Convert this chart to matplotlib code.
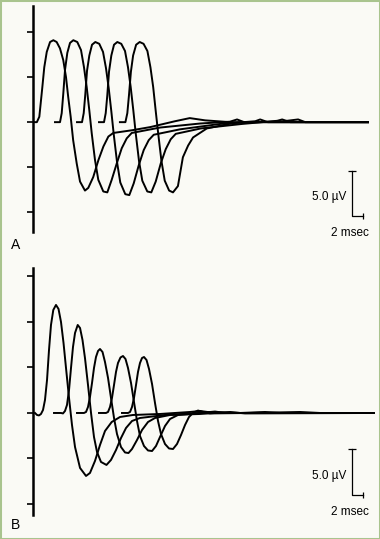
"""Two panels of stacked evoked potentials (A, B) with scale bars."""

import matplotlib

matplotlib.use("Agg")
import matplotlib.pyplot as plt
from matplotlib.patches import Rectangle

# ---- data: time in msec, amplitude in microvolts ----

# panel A, five responses
a_t1 = [0, 0.7, 1.15, 1.4, 1.7, 2.05, 2.5, 3.1, 3.7, 4.3, 4.9, 5.5, 6.0, 6.4, 6.85,
        7.3, 7.95, 8.55, 9.45, 10.05, 10.95, 11.9, 12.8, 13.7, 14.6, 18.0, 21.3,
        25.8, 28.5, 31.3, 35.8, 60.9]
a_v1 = [0, 0, 0.6, 2.1, 3.9, 6.1, 7.8, 8.9, 9.1, 8.9, 8.2, 6.9, 5.0, 2.8, 0.6,
        -2.0, -4.6, -6.6, -7.6, -7.3, -6.1, -4.2, -2.7, -1.6, -1.2, -0.9, -0.55,
        0.1, 0.45, 0.2, 0.0, 0.0]

a_t2 = [4.0, 4.91, 5.22, 5.51, 5.82, 6.24, 6.73, 7.33, 8.05, 8.73, 9.27, 9.76,
        10.24, 10.67, 11.27, 11.87, 12.78, 13.51, 14.31, 15.22, 16.13, 17.04,
        17.95, 23.1, 30.4, 35.8, 37.1, 38.4, 60.9]
a_v2 = [0, 0, 1.0, 3.2, 5.8, 7.7, 8.8, 9.1, 8.9, 8.0, 6.1, 3.9, 1.3, -1.2, -4.2,
        -6.4, -7.7, -7.8, -6.4, -4.6, -2.9, -1.8, -1.2, -0.6, -0.15, 0.05, 0.3,
        0.0, 0.0]

a_t3 = [8.0, 8.91, 9.22, 9.51, 9.82, 10.24, 10.73, 11.33, 12.05, 12.73, 13.27,
        13.76, 14.24, 14.67, 15.27, 15.87, 16.78, 17.51, 18.31, 19.22, 20.13,
        21.04, 21.95, 26.7, 34.0, 40.4, 41.3, 42.7, 60.9]
a_v3 = [0, 0, 1.0, 3.1, 5.7, 7.4, 8.6, 8.9, 8.7, 7.8, 6.0, 3.8, 1.2, -1.3, -4.4,
        -6.7, -8.0, -8.1, -6.8, -4.8, -3.1, -2.0, -1.4, -0.8, -0.2, 0.1, 0.3,
        0.0, 0.0]

a_t4 = [12.0, 12.91, 13.22, 13.51, 13.82, 14.24, 14.73, 15.33, 16.05, 16.73,
        17.27, 17.76, 18.24, 18.67, 19.27, 19.87, 20.78, 21.51, 22.31, 23.22,
        24.13, 25.04, 25.95, 30.5, 38.0, 44.4, 45.3, 46.8, 60.9]
a_v4 = [0, 0, 1.0, 3.0, 5.6, 7.4, 8.6, 8.9, 8.7, 7.9, 6.1, 3.9, 1.3, -1.2, -4.3,
        -6.5, -7.7, -7.8, -6.6, -4.6, -3.0, -1.9, -1.3, -0.7, -0.2, 0.15, 0.3,
        0.0, 0.0]

a_t5 = [15.8, 16.8, 17.15, 17.45, 17.8, 18.2, 18.75, 19.4, 20.1, 20.8, 21.35,
        21.85, 22.3, 22.75, 23.35, 23.95, 24.75, 25.45, 26.35, 27.25, 28.2, 29.1,
        31.6, 36.4, 45.5, 48.2, 49.5, 60.9]
a_v5 = [0, 0, 1.0, 3.0, 5.6, 7.4, 8.6, 8.9, 8.7, 7.9, 6.1, 3.9, 1.3, -1.2, -4.3,
        -6.5, -7.6, -7.8, -7.1, -3.9, -2.6, -1.7, -0.7, -0.1, 0.1, 0.3, 0.0, 0.0]

# panel B, five responses of falling size
b_t1 = [0.36, 0.73, 1.09, 1.45, 1.82, 2.18, 2.55, 2.91, 3.27, 3.69, 4.18, 4.64,
        5.09, 5.55, 6.0, 6.55, 7.09, 7.64, 8.55, 9.64, 10.36, 11.27, 12.18,
        13.09, 14.31, 15.82, 18.18, 23.09, 28.55, 30.36, 33.09, 62.0]
b_v1 = [0, -0.22, -0.27, -0.11, 0.33, 1.43, 3.63, 6.92, 9.67, 11.32, 11.87,
        11.43, 10.0, 7.69, 4.95, 1.65, -1.32, -3.74, -6.04, -6.92, -6.59, -5.27,
        -3.52, -1.98, -0.99, -0.44, -0.22, -0.11, 0.11, 0.22, 0, 0]

b_t2 = [3.82, 5.09, 5.45, 5.82, 6.18, 6.55, 6.91, 7.27, 7.64, 8.13, 8.55, 9.0,
        9.45, 10.0, 10.55, 11.09, 11.64, 12.36, 13.36, 14.18, 15.09, 16.0, 16.91,
        18.0, 19.45, 24.0, 30.36, 33.09, 34.91, 62.0]
b_v2 = [0, 0, -0.05, 0.22, 0.88, 2.53, 4.95, 7.25, 8.79, 9.67, 9.34, 8.02, 6.04,
        3.08, 0, -2.64, -4.29, -5.38, -5.71, -5.16, -4.07, -2.75, -1.65, -0.88,
        -0.55, -0.22, 0, 0.16, 0, 0]

b_t3 = [8.0, 9.27, 9.64, 10.0, 10.36, 10.73, 11.09, 11.45, 11.82, 12.18, 12.64,
        13.09, 13.64, 14.18, 14.73, 15.27, 16.0, 16.73, 17.36, 18.0, 18.91, 19.82,
        20.91, 22.18, 24.91, 30.36, 35.82, 38.55, 62.0]
b_v3 = [0, 0, 0.11, 0.66, 1.76, 3.3, 4.95, 6.15, 6.81, 7.03, 6.7, 5.6, 3.85,
        1.65, -0.55, -2.31, -3.74, -4.34, -4.4, -3.96, -2.97, -1.87, -0.99, -0.55,
        -0.22, -0.11, 0.11, -0.05, 0]

b_t4 = [12.0, 13.27, 13.64, 14.0, 14.36, 14.73, 15.09, 15.45, 15.91, 16.36,
        16.82, 17.27, 17.82, 18.36, 18.91, 19.45, 20.18, 20.91, 21.64, 22.36,
        23.09, 24.0, 24.91, 26.36, 29.45, 32.18, 37.64, 42.18, 44.91, 62.0]
b_v4 = [0, 0, 0.11, 0.66, 1.65, 3.08, 4.51, 5.49, 6.1, 6.26, 5.93, 4.95, 3.3,
        1.21, -0.88, -2.53, -3.63, -4.12, -4.18, -3.63, -2.64, -1.43, -0.66,
        -0.22, -0.05, 0.11, 0, 0.11, 0, 0]

b_t5 = [16.18, 17.27, 17.64, 18.0, 18.36, 18.73, 19.09, 19.45, 19.82, 20.18,
        20.64, 21.09, 21.64, 22.18, 22.73, 23.27, 24.0, 24.73, 25.45, 26.18,
        26.91, 27.64, 28.36, 29.09, 30.0, 30.91, 32.18, 39.45, 48.55, 52.18, 62.0]
b_v5 = [0, 0, 0.11, 0.66, 1.65, 3.08, 4.51, 5.49, 6.04, 6.15, 5.82, 4.84, 3.19,
        1.1, -0.88, -2.31, -3.41, -3.9, -3.96, -3.41, -2.42, -1.32, -0.44, 0,
        0.27, 0.11, -0.05, 0, 0.11, 0, 0]

a_traces = [(a_t1, a_v1), (a_t2, a_v2), (a_t3, a_v3), (a_t4, a_v4), (a_t5, a_v5)]
b_traces = [(b_t1, b_v1), (b_t2, b_v2), (b_t3, b_v3), (b_t4, b_v4), (b_t5, b_v5)]

a_ticks = [-10, -5, 0, 5, 10]
b_ticks = [-10, -5, 0, 5, 10, 15]

BAR_UV = 5.0
BAR_MS = 2.0

BG = "#fafaf5"
FRAME = "#a9c48e"
FONT = ["Liberation Sans", "DejaVu Sans"]


def setup_axis(ax, ylim, ticks):
    ax.set_xlim(0, 62.36)
    ax.set_ylim(*ylim)
    ax.set_facecolor("none")
    for side in ("top", "right", "bottom"):
        ax.spines[side].set_visible(False)
    ax.spines["left"].set_linewidth(1.8)
    ax.set_xticks([])
    ax.set_yticks(ticks)
    ax.tick_params(axis="y", direction="out", length=4.5, width=1.2,
                   labelleft=False)


def draw_scale_bar(ax, x0, y0):
    # vertical 5 uV bar with cap, horizontal 2 ms bar with end tick
    ax.plot([x0, x0, x0 + BAR_MS], [y0 + BAR_UV, y0, y0], color="black",
            lw=0.9, clip_on=False)
    ax.plot([x0], [y0 + BAR_UV], marker="_", ms=6, mew=0.9, color="black",
            clip_on=False)
    ax.plot([x0 + BAR_MS], [y0], marker="|", ms=5, mew=0.9, color="black",
            clip_on=False)
    ax.text(x0 - 1.1, y0 + BAR_UV * 0.42, "5.0 \u00b5V", ha="right",
            va="center", fontsize=8.5, family=FONT)
    ax.text(x0 + BAR_MS + 1.1, y0 - 1.9, "2 msec", ha="right", va="center",
            fontsize=8.5, family=FONT)


fig = plt.figure(figsize=(3.8, 5.39), dpi=100, facecolor=BG)
fig.patches.append(Rectangle((0, 0), 1, 1, transform=fig.transFigure,
                             fill=False, edgecolor=FRAME, linewidth=2.2))

W, H = 380.0, 539.0
ax_a = fig.add_axes([33 / W, 1 - 232 / H, 343 / W, 226 / H])
ax_b = fig.add_axes([33 / W, 1 - 515 / H, 343 / W, 247 / H])

setup_axis(ax_a, (-12.2, 12.9), a_ticks)
setup_axis(ax_b, (-11.21, 15.93), b_ticks)

for t, v in a_traces:
    ax_a.plot(t, v, color="black", lw=1.4, solid_joinstyle="round")
for t, v in b_traces:
    ax_b.plot(t, v, color="black", lw=1.4, solid_joinstyle="round")

draw_scale_bar(ax_a, 58.0, -10.45)
draw_scale_bar(ax_b, 58.0, -9.0)

fig.text(16 / W, 1 - 245 / H, "A", ha="center", va="center", fontsize=10,
         family=FONT)
fig.text(16 / W, 1 - 525 / H, "B", ha="center", va="center", fontsize=10,
         family=FONT)

fig.savefig("out.png", dpi=100, facecolor=BG)
